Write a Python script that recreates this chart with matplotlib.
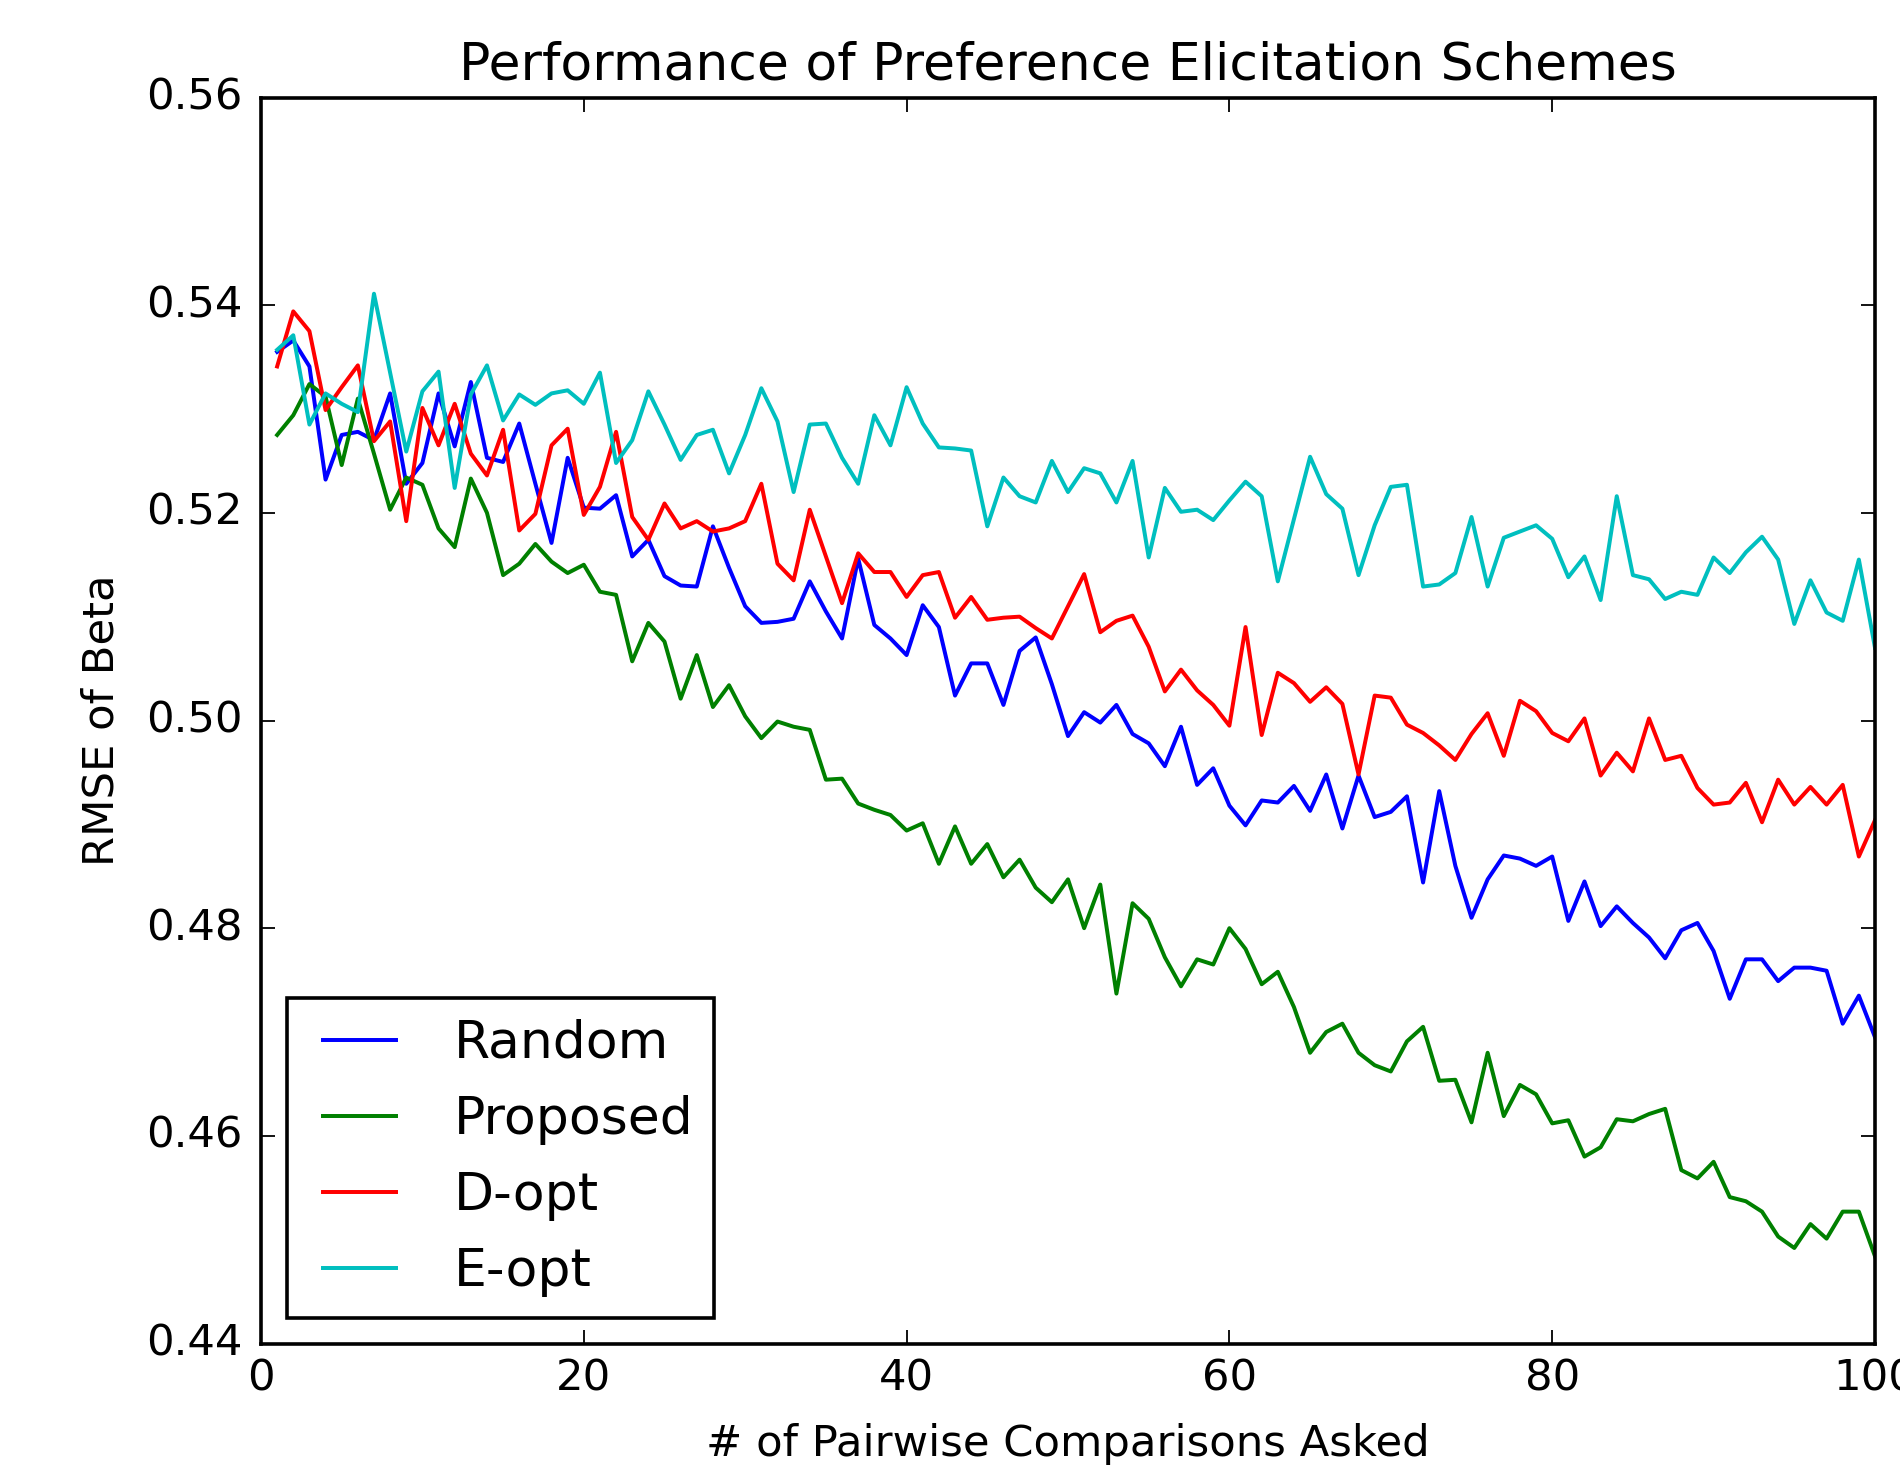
import matplotlib
matplotlib.use("Agg")
import matplotlib.pyplot as plt
import numpy as np

plt.style.use('classic')
plt.rcParams['font.family'] = ['DejaVu Sans']

questions = list(range(1, 101))

random_rmse = [
    0.5355, 0.5366, 0.5341, 0.5232, 0.5275, 0.5278, 0.5270, 0.5315, 0.5228, 0.5248,
    0.5315, 0.5264, 0.5326, 0.5253, 0.5249, 0.5286, 0.5228, 0.5171, 0.5253, 0.5205,
    0.5204, 0.5217, 0.5158, 0.5174, 0.5139, 0.5130, 0.5129, 0.5187, 0.5147, 0.5110,
    0.5094, 0.5095, 0.5098, 0.5134, 0.5105, 0.5079, 0.5156, 0.5092, 0.5079, 0.5063,
    0.5111, 0.5090, 0.5024, 0.5055, 0.5055, 0.5015, 0.5067, 0.5080, 0.5035, 0.4985,
    0.5008, 0.4998, 0.5015, 0.4987, 0.4978, 0.4956, 0.4994, 0.4938, 0.4954, 0.4918,
    0.4899, 0.4923, 0.4921, 0.4937, 0.4913, 0.4948, 0.4896, 0.4947, 0.4907, 0.4912,
    0.4927, 0.4844, 0.4932, 0.4860, 0.4810, 0.4847, 0.4870, 0.4867, 0.4860, 0.4869,
    0.4807, 0.4845, 0.4802, 0.4821, 0.4805, 0.4791, 0.4771, 0.4798, 0.4805, 0.4778,
    0.4732, 0.4770, 0.4770, 0.4749, 0.4762, 0.4762, 0.4759, 0.4708, 0.4735, 0.4695,
]

proposed_rmse = [
    0.5275, 0.5294, 0.5324, 0.5312, 0.5246, 0.5310, 0.5257, 0.5203, 0.5234, 0.5227,
    0.5185, 0.5167, 0.5233, 0.5200, 0.5140, 0.5151, 0.5170, 0.5153, 0.5142, 0.5150,
    0.5124, 0.5121, 0.5057, 0.5094, 0.5076, 0.5021, 0.5063, 0.5013, 0.5034, 0.5004,
    0.4983, 0.4999, 0.4994, 0.4991, 0.4943, 0.4944, 0.4920, 0.4914, 0.4909, 0.4894,
    0.4901, 0.4862, 0.4898, 0.4862, 0.4881, 0.4849, 0.4866, 0.4839, 0.4825, 0.4847,
    0.4800, 0.4842, 0.4737, 0.4824, 0.4809, 0.4772, 0.4744, 0.4770, 0.4765, 0.4800,
    0.4780, 0.4746, 0.4758, 0.4724, 0.4680, 0.4700, 0.4708, 0.4680, 0.4668, 0.4662,
    0.4691, 0.4705, 0.4653, 0.4654, 0.4613, 0.4680, 0.4619, 0.4649, 0.4640, 0.4612,
    0.4615, 0.4580, 0.4589, 0.4616, 0.4614, 0.4621, 0.4626, 0.4567, 0.4559, 0.4575,
    0.4541, 0.4537, 0.4527, 0.4503, 0.4492, 0.4515, 0.4501, 0.4527, 0.4527, 0.4484,
]

dopt_rmse = [
    0.5341, 0.5394, 0.5375, 0.5299, 0.5321, 0.5342, 0.5269, 0.5288, 0.5192, 0.5301,
    0.5265, 0.5305, 0.5257, 0.5236, 0.5280, 0.5183, 0.5199, 0.5265, 0.5281, 0.5198,
    0.5225, 0.5278, 0.5196, 0.5174, 0.5209, 0.5185, 0.5192, 0.5182, 0.5185, 0.5192,
    0.5228, 0.5151, 0.5135, 0.5203, 0.5158, 0.5113, 0.5161, 0.5143, 0.5143, 0.5119,
    0.5140, 0.5143, 0.5099, 0.5119, 0.5097, 0.5099, 0.5100, 0.5089, 0.5079, 0.5110,
    0.5141, 0.5085, 0.5096, 0.5101, 0.5071, 0.5028, 0.5049, 0.5029, 0.5015, 0.4995,
    0.5090, 0.4986, 0.5046, 0.5036, 0.5018, 0.5032, 0.5016, 0.4948, 0.5024, 0.5022,
    0.4996, 0.4988, 0.4976, 0.4962, 0.4987, 0.5007, 0.4966, 0.5019, 0.5009, 0.4988,
    0.4980, 0.5002, 0.4947, 0.4969, 0.4951, 0.5002, 0.4962, 0.4966, 0.4935, 0.4919,
    0.4921, 0.4940, 0.4902, 0.4943, 0.4919, 0.4936, 0.4919, 0.4938, 0.4869, 0.4904,
]

eopt_rmse = [
    0.5357, 0.5371, 0.5285, 0.5315, 0.5305, 0.5297, 0.5411, 0.5335, 0.5259, 0.5317,
    0.5336, 0.5224, 0.5314, 0.5342, 0.5289, 0.5314, 0.5304, 0.5315, 0.5318, 0.5305,
    0.5335, 0.5248, 0.5270, 0.5317, 0.5285, 0.5251, 0.5275, 0.5280, 0.5238, 0.5275,
    0.5320, 0.5288, 0.5220, 0.5285, 0.5286, 0.5253, 0.5228, 0.5294, 0.5265, 0.5321,
    0.5286, 0.5263, 0.5262, 0.5260, 0.5187, 0.5234, 0.5216, 0.5210, 0.5250, 0.5220,
    0.5243, 0.5238, 0.5210, 0.5250, 0.5157, 0.5224, 0.5201, 0.5203, 0.5193, 0.5212,
    0.5230, 0.5216, 0.5134, 0.5194, 0.5254, 0.5218, 0.5204, 0.5140, 0.5188, 0.5225,
    0.5227, 0.5129, 0.5131, 0.5142, 0.5196, 0.5129, 0.5176, 0.5182, 0.5188, 0.5175,
    0.5138, 0.5158, 0.5116, 0.5216, 0.5140, 0.5136, 0.5117, 0.5124, 0.5121, 0.5157,
    0.5142, 0.5162, 0.5177, 0.5155, 0.5093, 0.5135, 0.5104, 0.5096, 0.5155, 0.5070,
]

series_labels = ['Random', 'Proposed', 'D-opt', 'E-opt']
series_colors = ['b', 'g', 'r', 'c']

DPI = 260
fig = plt.figure(figsize=(1900 / DPI, 1466 / DPI), dpi=DPI, facecolor='white')
ax = fig.add_axes([261 / 1900, (1466 - 1343.5) / 1466, (1875 - 261) / 1900, 1246 / 1466])

for vals, lab, col in zip([random_rmse, proposed_rmse, dopt_rmse, eopt_rmse],
                          series_labels, series_colors):
    ax.plot(questions, vals, color=col, label=lab, linewidth=1.1)

ax.set_xlim(0, 100)
ax.set_ylim(0.44, 0.56)
ax.set_xticks(np.arange(0, 101, 20))
ax.set_yticks(np.arange(0.44, 0.5601, 0.02))
ax.tick_params(axis='y', pad=5)
ax.set_title('Performance of Preference Elicitation Schemes')
ax.set_xlabel('# of Pairwise Comparisons Asked', labelpad=6.5)
ax.set_ylabel('RMSE of Beta', labelpad=6.5)
ax.legend(loc='lower left')

fig.savefig('out.png', dpi=DPI, facecolor='white')
